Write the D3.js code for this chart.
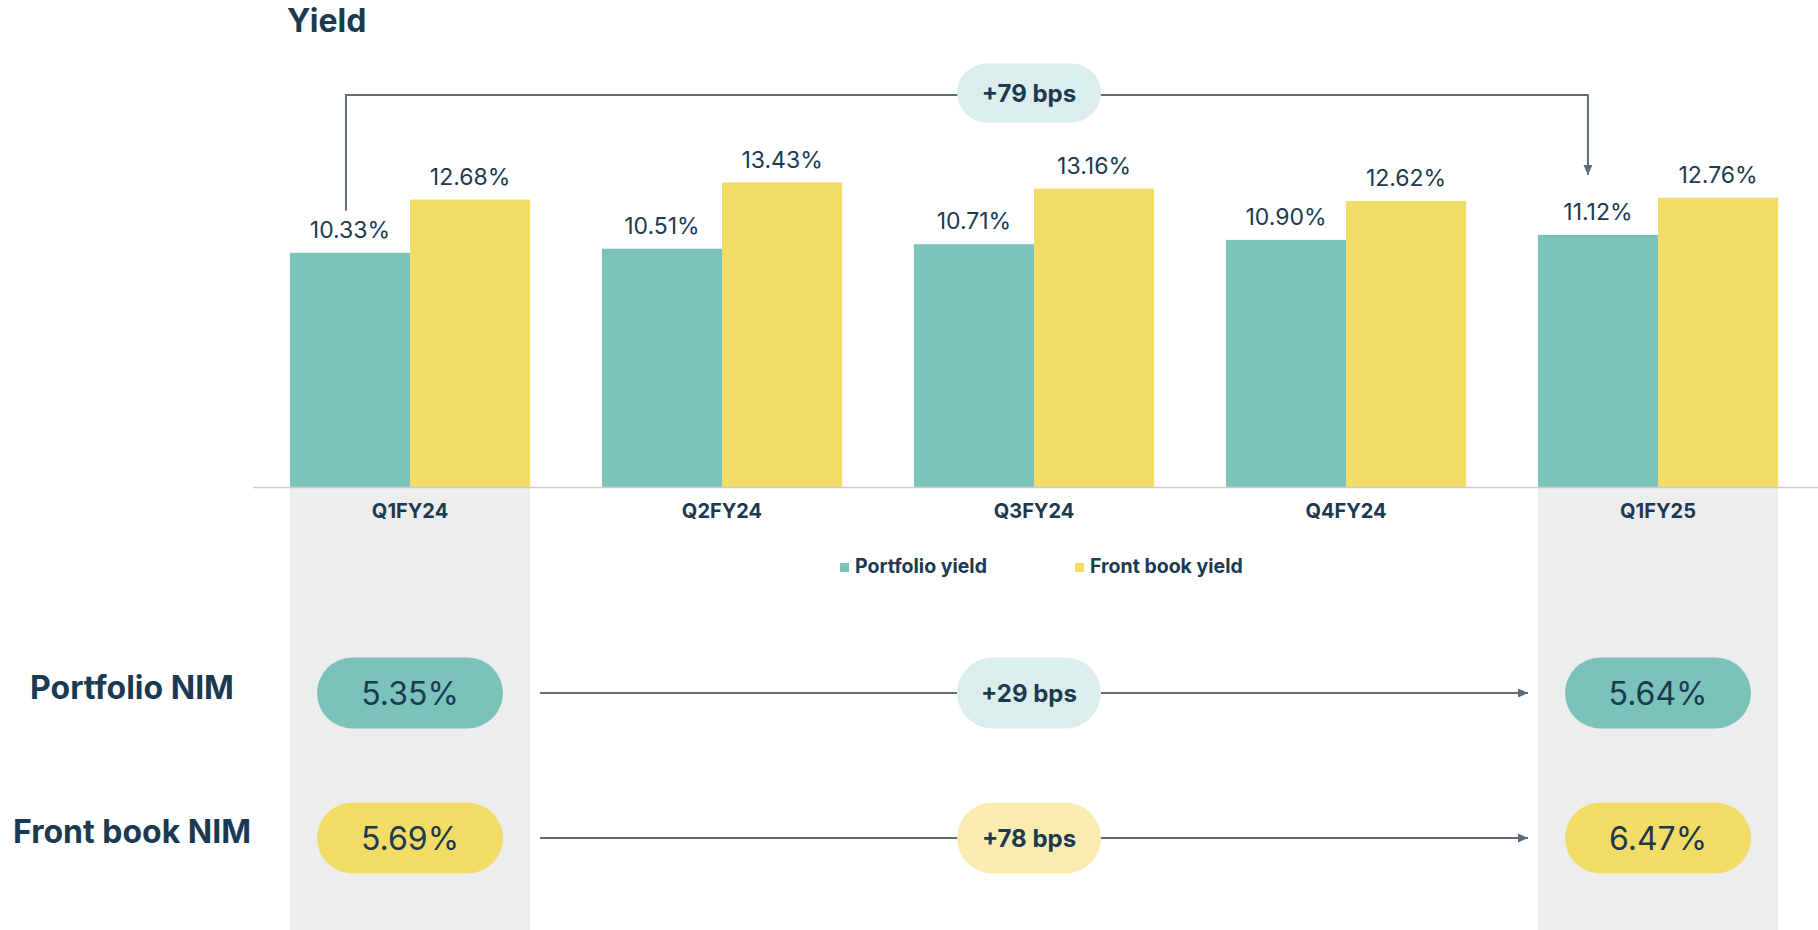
<!DOCTYPE html>
<html>
<head>
<meta charset="utf-8">
<script src="https://cdn.jsdelivr.net/npm/d3@7"></script>
<style>
  html, body { margin: 0; padding: 0; background: #ffffff; }
  svg { display: block; font-family: Inter, "Noto Sans", sans-serif; }
</style>
</head>
<body>
<svg id="chart" width="1818" height="930"></svg>
<script>
// ---- data ----
const categories = ["Q1FY24", "Q2FY24", "Q3FY24", "Q4FY24", "Q1FY25"];
const seriesNames = ["Portfolio yield", "Front book yield"];
const portfolioYield = [10.33, 10.51, 10.71, 10.90, 11.12];
const frontBookYield = [12.68, 13.43, 13.16, 12.62, 12.76];
const highlighted = ["Q1FY24", "Q1FY25"];
const nimLabels = ["Portfolio NIM", "Front book NIM"];
const nimStart = [5.35, 5.69];
const nimEnd = [5.64, 6.47];

// ---- styles ----
const TEAL = "#7bc2bb", YELLOW = "#f2dc66", NAVY = "#1b3a51";
const LINE = "#5d6c7b", GREY = "#ededed";
const LIGHT_TEAL = "#dceeec", LIGHT_YELLOW = "#faecb0";
const colors = [TEAL, YELLOW];
const lightColors = [LIGHT_TEAL, LIGHT_YELLOW];

const svg = d3.select("#chart");

svg.append("defs").append("marker")
  .attr("id", "arrow").attr("viewBox", "0 0 10 10")
  .attr("refX", 10).attr("refY", 5)
  .attr("markerWidth", 10).attr("markerHeight", 10)
  .attr("markerUnits", "userSpaceOnUse")
  .attr("orient", "auto")
  .append("path").attr("d", "M0,0.5 L10,5 L0,9.5 Z").attr("fill", LINE);

const x0 = d3.scaleBand().domain(categories).range([254, 1814])
  .paddingInner(0.23).paddingOuter(0.115);
const x1 = d3.scaleBand().domain(seriesNames).range([0, x0.bandwidth()]).padding(0);
const y = d3.scaleLinear().domain([0, 20]).range([487, 487 - 20 * 22.67]);

const rows = categories.map((c, i) => ({ cat: c, values: [portfolioYield[i], frontBookYield[i]] }));

// grey highlight columns
svg.append("g").selectAll("rect").data(highlighted).join("rect")
  .attr("x", d => x0(d)).attr("width", x0.bandwidth())
  .attr("y", y(0) + 1).attr("height", 930 - y(0))
  .attr("fill", GREY);

// title
svg.append("text").attr("x", 287).attr("y", 32)
  .attr("font-size", 32).attr("font-weight", 700).attr("fill", NAVY).text("Yield");

// bars
const groups = svg.append("g").selectAll("g").data(rows).join("g")
  .attr("transform", d => `translate(${x0(d.cat)},0)`);
groups.selectAll("rect").data(d => d.values.map((v, k) => ({ k, v }))).join("rect")
  .attr("x", d => x1(seriesNames[d.k])).attr("width", x1.bandwidth())
  .attr("y", d => y(d.v)).attr("height", d => y(0) - y(d.v))
  .attr("fill", d => colors[d.k]);
groups.selectAll("text").data(d => d.values.map((v, k) => ({ k, v }))).join("text")
  .attr("x", d => x1(seriesNames[d.k]) + x1.bandwidth() / 2)
  .attr("y", d => y(d.v) - 15)
  .attr("text-anchor", "middle").attr("font-size", 23).attr("fill", NAVY)
  .text(d => d.v.toFixed(2) + "%");

// x axis
const axis = svg.append("g").attr("transform", `translate(0,${y(0)})`)
  .call(d3.axisBottom(x0).tickSize(0).tickPadding(17));
axis.select(".domain").attr("stroke", "#c9ccd1").attr("stroke-width", 1.5)
  .attr("d", "M253,0.5H1818");
axis.selectAll(".tick text").attr("font-size", 20).attr("font-weight", 700)
  .attr("fill", NAVY).attr("font-family", "Inter, sans-serif");

// legend
const legendX = [840, 1075];
const legend = svg.append("g").selectAll("g").data(seriesNames).join("g")
  .attr("transform", (d, i) => `translate(${legendX[i]},0)`);
legend.append("rect").attr("x", 0).attr("y", 563).attr("width", 9).attr("height", 9)
  .attr("fill", (d, i) => colors[i]);
legend.append("text").attr("x", 15).attr("y", 572.5)
  .attr("font-size", 19.5).attr("font-weight", 700).attr("fill", NAVY).text(d => d);

// yield bracket
const teal0 = x0(categories[0]) + x1(seriesNames[0]) + x1.bandwidth() / 2 - 4;
const teal4 = x0(categories[4]) + x1(seriesNames[0]) + x1.bandwidth() / 2 - 10;
const bracketY = 95;
svg.append("path")
  .attr("d", `M${teal0},${y(portfolioYield[0]) - 42}V${bracketY}H${teal4}V${y(portfolioYield[4]) - 60}`)
  .attr("fill", "none").attr("stroke", LINE).attr("stroke-width", 2)
  .attr("marker-end", "url(#arrow)");

function pill(cx, cy, w, h, fill, label, size, weight) {
  svg.append("rect").attr("x", cx - w / 2).attr("y", cy - h / 2)
    .attr("width", w).attr("height", h).attr("rx", h / 2).attr("fill", fill);
  svg.append("text").attr("x", cx).attr("y", cy).attr("dy", "0.36em")
    .attr("text-anchor", "middle").attr("font-size", size).attr("font-weight", weight)
    .attr("fill", NAVY).text(label);
}
const bps = (a, b) => "+" + Math.round((b - a) * 100) + " bps";
const midX = 1029;
pill(midX, 93, 144, 59, LIGHT_TEAL, bps(portfolioYield[0], portfolioYield[4]), 24, 700);

// NIM rows
const nimY = [693, 838];
const nimLabelBase = [698.5, 843];
const c0 = x0(categories[0]) + x0.bandwidth() / 2;
const c4 = x0(categories[4]) + x0.bandwidth() / 2;
nimLabels.forEach((lab, i) => {
  const cy = nimY[i];
  svg.append("text").attr("x", 132).attr("y", nimLabelBase[i])
    .attr("text-anchor", "middle").attr("font-size", 32).attr("font-weight", 700)
    .attr("fill", NAVY).text(lab);
  svg.append("line").attr("x1", 540).attr("x2", 1528).attr("y1", cy).attr("y2", cy)
    .attr("stroke", LINE).attr("stroke-width", 2).attr("marker-end", "url(#arrow)");
  pill(c0, cy, 186, 71, colors[i], nimStart[i].toFixed(2) + "%", 32, 400);
  pill(c4, cy, 186, 71, colors[i], nimEnd[i].toFixed(2) + "%", 32, 400);
  pill(midX, cy, 144, 71, lightColors[i], bps(nimStart[i], nimEnd[i]), 24, 700);
});
</script>
</body>
</html>
